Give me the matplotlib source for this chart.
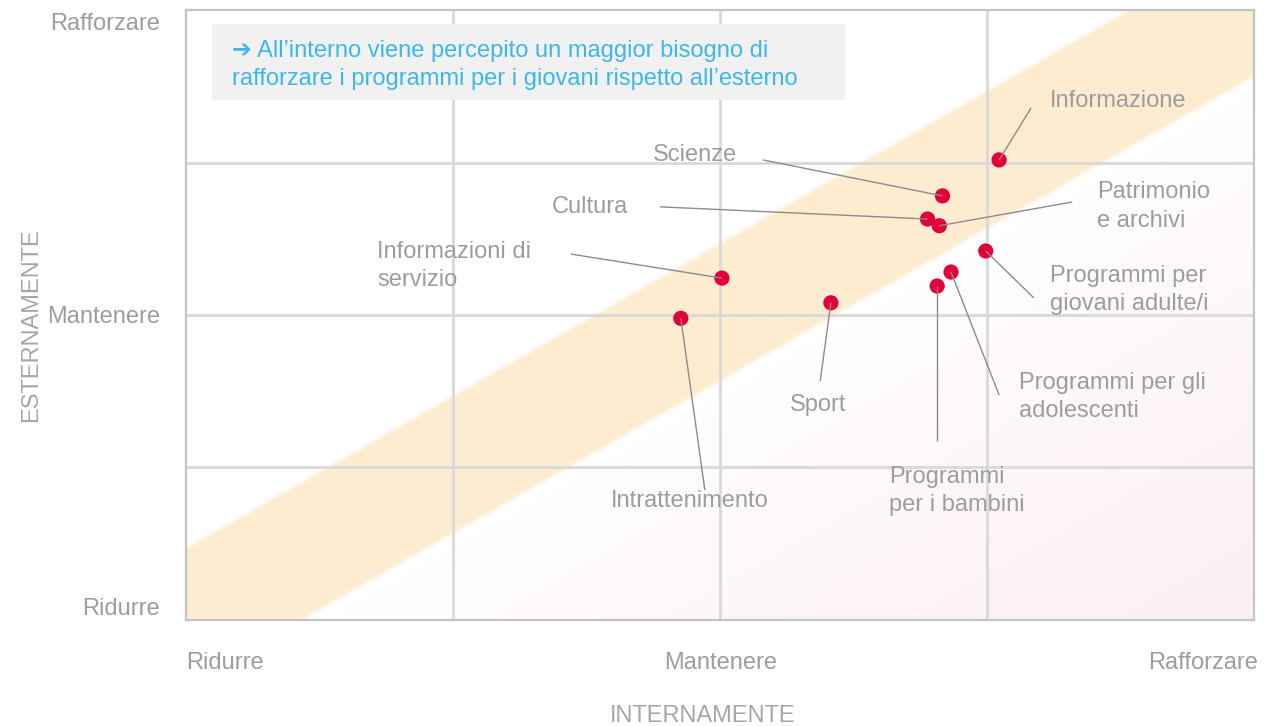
import numpy as np
import matplotlib
matplotlib.use("Agg")
import matplotlib.pyplot as plt
import matplotlib.transforms as mtransforms
from matplotlib.patches import Rectangle

plt.rcParams['font.family'] = ['Liberation Sans', 'DejaVu Sans']

# Perceived need per programme area: internal (x) vs external (y) view
# scale: -1 = Ridurre, 0 = Mantenere, 1 = Rafforzare
categories = [
    "Informazione", "Scienze", "Cultura", "Patrimonio\ne archivi",
    "Informazioni di\nservizio", "Programmi per\ngiovani adulte/i",
    "Programmi per gli\nadolescenti", "Programmi\nper i bambini",
    "Sport", "Intrattenimento",
]
internamente = [0.522, 0.416, 0.388, 0.410, 0.003, 0.497, 0.432, 0.406, 0.207, -0.074]
esternamente = [0.509, 0.391, 0.315, 0.293, 0.121, 0.210, 0.141, 0.095, 0.040, -0.011]

tick_values = [-1, 0, 1]
tick_labels = ["Ridurre", "Mantenere", "Rafforzare"]

# label placement (text anchor, leader-line end) in axis units
label_pos = [(0.617, 0.703), (-0.126, 0.525), (-0.315, 0.355), (0.705, 0.356),
             (-0.643, 0.161), (0.617, 0.082), (0.559, -0.269), (0.316, -0.578),
             (0.131, -0.295), (-0.205, -0.611)]
leader_end = [(0.582, 0.680), (0.080, 0.509), (-0.113, 0.355), (0.659, 0.371),
              (-0.280, 0.200), (0.587, 0.056), (0.522, -0.263), (0.406, -0.414),
              (0.187, -0.217), (-0.029, -0.575)]

TEXT = "#9d9d9d"
GRID = "#d9d9d9"
DOT = "#E2003C"
BLUE = "#3db7ea"
FS = 17
LS = 1.4

fig = plt.figure(figsize=(12.78, 7.26), dpi=100)
ax = fig.add_axes([0.1458, 0.1466, 0.8357, 0.8391])
ax.set_xlim(-1, 1)
ax.set_ylim(-1, 1)

# background: diagonal agreement band plus faint pink wash below it
n = 600
gx, gy = np.meshgrid(np.linspace(-1, 1, n), np.linspace(-1, 1, n))
d = gy - gx
lo, hi, soft = -0.215, 0.235, 0.02
band = np.clip((d - lo) / soft + 0.5, 0, 1) * np.clip((hi - d) / soft + 0.5, 0, 1)
pink_t = np.clip((-d + lo - 0.05) / 1.6, 0, 1) ** 0.8
white = np.array([1.0, 1.0, 1.0])
peach = np.array([253, 236, 208]) / 255
pink = np.array([252, 240, 244]) / 255
img = white[None, None, :] * np.ones((n, n, 3))
img = img * (1 - pink_t[..., None]) + pink[None, None, :] * pink_t[..., None]
img = img * (1 - band[..., None]) + peach[None, None, :] * band[..., None]
ax.imshow(img, extent=[-1, 1, -1, 1], origin="lower", aspect="auto", zorder=0,
          interpolation="bilinear")

for g in (-0.5, 0, 0.5):
    ax.axvline(g, color=GRID, lw=2, zorder=1)
    ax.axhline(g, color=GRID, lw=2, zorder=1)

for s in ax.spines.values():
    s.set_color("#c4c4c4")
    s.set_linewidth(1.6)

# points
ax.scatter(internamente, esternamente, s=120, color=DOT, edgecolors="none", zorder=3)

# leader lines and labels
for name, x, y, (lx, ly), (ex, ey) in zip(categories, internamente, esternamente,
                                          label_pos, leader_end):
    ax.plot([x, ex], [y, ey], color="#8c8c8c", lw=1.0, zorder=4,
            solid_capstyle="butt")
    ax.text(lx, ly, name, color=TEXT, fontsize=FS, ha="left", va="center",
            linespacing=LS, zorder=5)

# ticks
ax.set_xticks(tick_values)
ax.set_xticklabels(tick_labels)
ax.set_yticks(tick_values)
ax.set_yticklabels(tick_labels)
ax.tick_params(length=0, labelsize=FS, labelcolor=TEXT)
ax.tick_params(axis="x", pad=23)
ax.tick_params(axis="y", pad=19)
xl = ax.get_xticklabels()
xl[0].set_ha("left")
xl[2].set_ha("right")
xl[2].set_transform(xl[2].get_transform() +
                    mtransforms.ScaledTranslation(4 / 100, 0, fig.dpi_scale_trans))
yl = ax.get_yticklabels()
yl[0].set_va("bottom")
yl[2].set_va("top")
yl[2].set_transform(yl[2].get_transform() +
                    mtransforms.ScaledTranslation(0, -3 / 100, fig.dpi_scale_trans))

fig.text(703 / 1278, 1 - 716 / 726, "INTERNAMENTE", color="#a6a6a6", fontsize=FS,
         ha="center", va="center")
fig.text(31 / 1278, 1 - 325 / 726, "ESTERNAMENTE", color="#a6a6a6", fontsize=FS,
         ha="center", va="center", rotation=90)

# call-out box
ax.add_patch(Rectangle((0.024, 0.853), 0.593, 0.125, transform=ax.transAxes,
                       facecolor="#f1f1f1", edgecolor="none", zorder=6))
ax.text(0.0428, 0.9105,
        "\u2794 All\u2019interno viene percepito un maggior bisogno di\n"
        "rafforzare i programmi per i giovani rispetto all\u2019esterno",
        transform=ax.transAxes, color=BLUE, fontsize=FS, ha="left", va="center",
        linespacing=LS, zorder=7,
        family=["Liberation Sans", "DejaVu Sans"])

fig.savefig("out.png", dpi=100)
